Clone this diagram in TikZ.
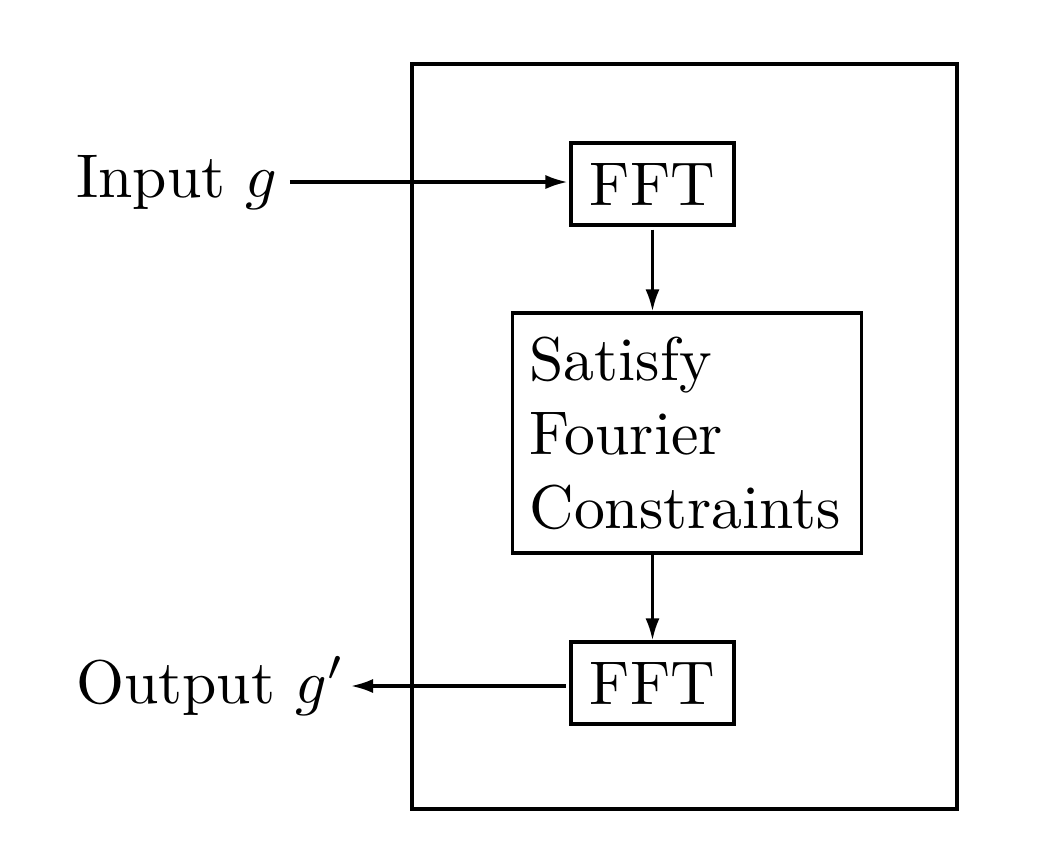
\documentclass[tikz,border=0pt]{standalone}
\usetikzlibrary{arrows.meta}
\newcommand{\pxu}{0.162pt}
\begin{document}
\begin{tikzpicture}[x=\pxu,y=-\pxu,
  box/.style={draw,line width=0.5pt,inner sep=0pt},
  lbl/.style={inner sep=1.8pt},
  conn/.style={line width=0.5pt,-{Latex[length=3.6pt,width=2.3pt]}}]
\useasboundingbox (0,0) rectangle (1057,864);
\node[box,minimum width=545*\pxu,minimum height=745*\pxu] (outer) at (684.5,436.5) {};
\node[box,minimum width=163*\pxu,minimum height=82*\pxu] (fft1) at (652.5,184) {FFT};
\node[box,minimum width=349*\pxu,minimum height=240*\pxu,align=left,text width=315*\pxu] (sat) at (687,433) {Satisfy\\Fourier\\Constraints};
\node[box,minimum width=163*\pxu,minimum height=82*\pxu] (fft2) at (652.5,683) {FFT};
\node[lbl,anchor=east] (in) at (290,182) {Input $g$};
\node[lbl,inner sep=0.8pt,anchor=west] (out) at (70,686) {Output $g'$};
\draw[conn,shorten >=0.3pt] (in.east) -- (fft1.west |- in.east);
\draw[conn,shorten <=0.5pt] (fft1.south) -- (fft1.south |- sat.north);
\draw[conn] (fft2.north |- sat.south) -- (fft2.north);
\draw[conn,shorten <=0.6pt] (fft2.west |- out.east) -- (out.east);
\end{tikzpicture}
\end{document}
